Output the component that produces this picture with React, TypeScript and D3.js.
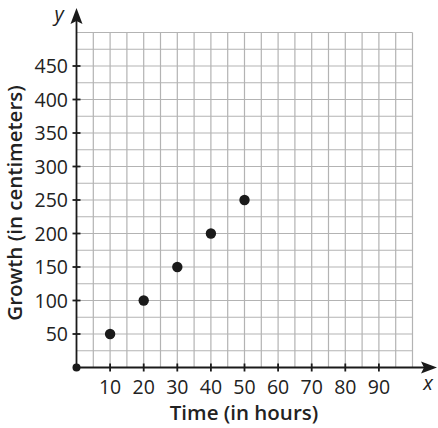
import React, { useRef, useEffect } from 'react'
import * as d3 from 'd3'

const timeHours = [10, 20, 30, 40, 50]
const growthCm = [50, 100, 150, 200, 250]
const xTicks = [10, 20, 30, 40, 50, 60, 70, 80, 90]
const yTicks = [50, 100, 150, 200, 250, 300, 350, 400, 450]

const W = 438
const H = 428

const App: React.FC = () => {
  const svgRef = useRef<SVGSVGElement>(null)

  useEffect(() => {
    const svg = d3.select(svgRef.current!)
    svg.selectAll('*').remove()

    const x = d3.scaleLinear().domain([0, 100]).range([76.5, 412.5])
    const y = d3.scaleLinear().domain([0, 500]).range([367.5, 32.5])
    const font = "'Open Sans', 'Noto Sans', sans-serif"

    // grid every 5 hours / 25 cm
    const grid = svg.append('g').attr('stroke', '#b3b3b3').attr('stroke-width', 1.2)
    d3.range(5, 101, 5).forEach((v) => {
      grid.append('line')
        .attr('x1', x(v)).attr('x2', x(v))
        .attr('y1', y(0)).attr('y2', y(500))
    })
    d3.range(25, 501, 25).forEach((v) => {
      grid.append('line')
        .attr('x1', x(0)).attr('x2', x(100))
        .attr('y1', y(v)).attr('y2', y(v))
    })

    // axes with arrows
    const axis = svg.append('g').attr('stroke', '#1a1a1a').attr('stroke-width', 1.8)
    axis.append('line')
      .attr('x1', x(0)).attr('x2', 428)
      .attr('y1', y(0)).attr('y2', y(0))
    axis.append('line')
      .attr('x1', x(0)).attr('x2', x(0))
      .attr('y1', y(0)).attr('y2', 18)
    svg.append('path')
      .attr('d', `M437,${y(0)} L421,${y(0) - 6} L424,${y(0)} L421,${y(0) + 6} Z`)
      .attr('fill', '#1a1a1a')
    svg.append('path')
      .attr('d', `M${x(0)},8 L${x(0) - 6},24 L${x(0)},21 L${x(0) + 6},24 Z`)
      .attr('fill', '#1a1a1a')

    // ticks
    xTicks.forEach((v) => {
      axis.append('line')
        .attr('x1', x(v)).attr('x2', x(v))
        .attr('y1', y(0) - 4).attr('y2', y(0) + 4)
      svg.append('text')
        .attr('x', x(v)).attr('y', y(0) + 26.5)
        .attr('text-anchor', 'middle')
        .style('font-family', font).style('font-size', '19.5px').attr('fill', '#222')
        .text(v)
    })
    yTicks.forEach((v) => {
      axis.append('line')
        .attr('x1', x(0) - 4).attr('x2', x(0) + 4)
        .attr('y1', y(v)).attr('y2', y(v))
      svg.append('text')
        .attr('x', x(0) - 8.5).attr('y', y(v) + 7)
        .attr('text-anchor', 'end')
        .style('font-family', font).style('font-size', '19.5px').attr('fill', '#222')
        .text(v)
    })

    // axis letters
    svg.append('text')
      .attr('x', 59).attr('y', 21)
      .attr('text-anchor', 'middle')
      .style('font-family', font).style('font-size', '20px').style('font-style', 'italic')
      .attr('fill', '#222')
      .text('y')
    svg.append('text')
      .attr('x', 428).attr('y', 390)
      .attr('text-anchor', 'middle')
      .style('font-family', font).style('font-size', '20px').style('font-style', 'italic')
      .attr('fill', '#222')
      .text('x')

    // axis titles
    svg.append('text')
      .attr('x', 244).attr('y', 420)
      .attr('text-anchor', 'middle')
      .style('font-family', font).style('font-size', '20.5px').style('font-weight', 600)
      .attr('fill', '#222')
      .text('Time (in hours)')
    svg.append('text')
      .attr('transform', `translate(22,${203}) rotate(-90)`)
      .attr('text-anchor', 'middle')
      .style('font-family', font).style('font-size', '20.5px').style('font-weight', 600)
      .attr('fill', '#222')
      .text('Growth (in centimeters)')

    // origin dot
    svg.append('circle').attr('cx', x(0)).attr('cy', y(0)).attr('r', 4).attr('fill', '#1a1a1a')

    // data points
    timeHours.forEach((t, i) => {
      svg.append('circle')
        .attr('cx', x(t)).attr('cy', y(growthCm[i]))
        .attr('r', 5.2)
        .attr('fill', '#1a1a1a')
    })
  }, [])

  return (
    <svg
      ref={svgRef}
      width={W}
      height={H}
      viewBox={`0 0 ${W} ${H}`}
      style={{ position: 'absolute', left: 0, top: 0, background: '#fff' }}
    />
  )
}

export default App
